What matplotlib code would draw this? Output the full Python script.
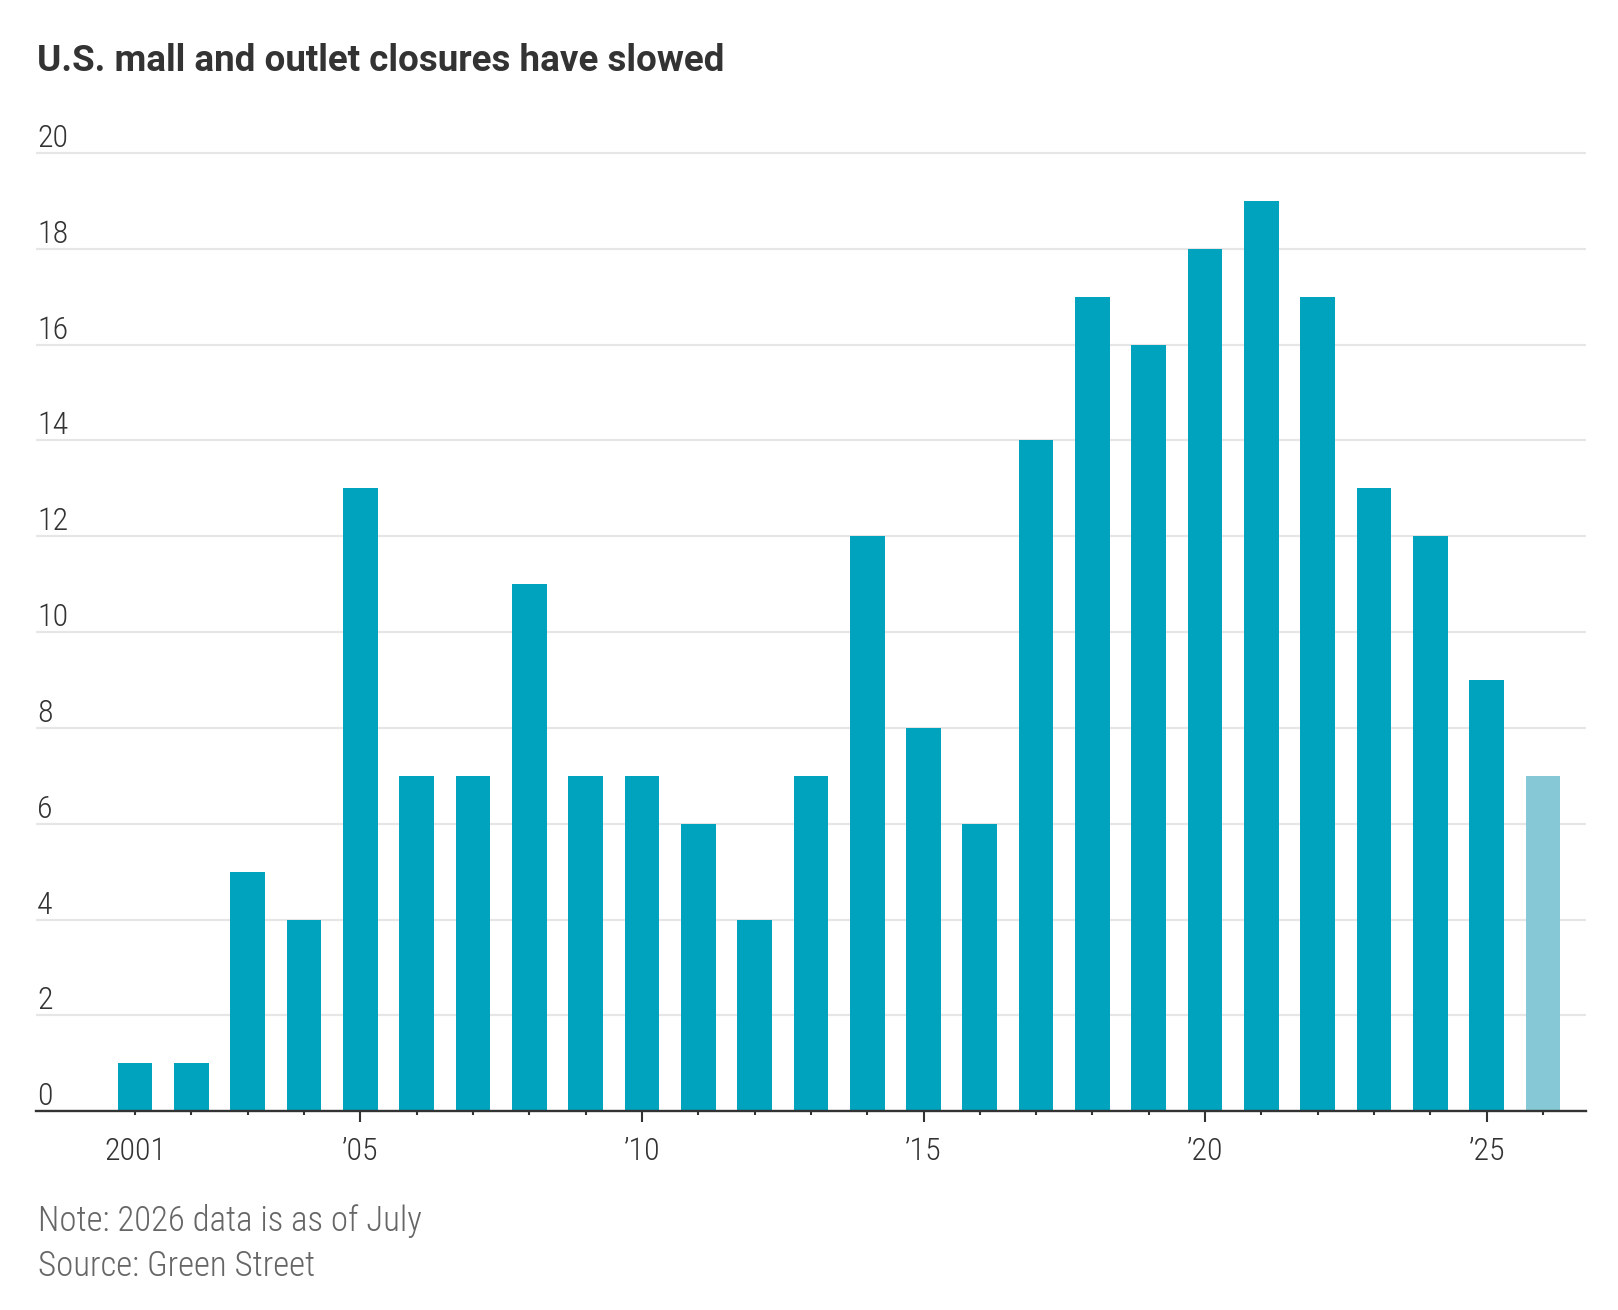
import matplotlib
matplotlib.use("Agg")
import matplotlib.pyplot as plt
from matplotlib import font_manager as fm
from matplotlib.transforms import blended_transform_factory, offset_copy
import os

# ---------------- data ----------------
years = list(range(2001, 2027))
closures = [1, 1, 5, 4, 13, 7, 7, 11, 7, 7, 6, 4, 7, 12, 8, 6, 14, 17, 16, 18, 19, 17, 13, 12, 9, 7]
partial_years = [2026]
ytick_values = [0, 2, 4, 6, 8, 10, 12, 14, 16, 18, 20]
ytick_labels = ["0", "2", "4", "6", "8", "10", "12", "14", "16", "18", "20"]
xtick_years = [2001, 2005, 2010, 2015, 2020, 2025]
xtick_labels = ["2001", "\u201905", "\u201910", "\u201915", "\u201920", "\u201925"]
title_text = "U.S. mall and outlet closures have slowed"
note_text = "Note: 2026 data is as of July"
source_text = "Source: Green Street"


# ---------------- fonts ----------------
def find_file(family, must, avoid=("italic",)):
    for f in fm.fontManager.ttflist:
        low = os.path.basename(f.fname).lower()
        if f.name == family and all(m in low for m in must) and not any(a in low for a in avoid):
            return f.fname
    return None


def props(family, must, weight, avoid=("italic",)):
    fn = find_file(family, must, avoid)
    if fn:
        return fm.FontProperties(fname=fn)
    return fm.FontProperties(family=family, weight=weight)


fp_title = props("Roboto", ["bold"], "bold", avoid=("italic", "semi", "extra", "condensed"))
fp_tick = props("Roboto Condensed", ["light"], "light", avoid=("italic", "extra"))
fp_note = props("Roboto Condensed", ["light"], "light", avoid=("italic", "extra"))

# ---------------- layout ----------------
W, H = 1618, 1310
fig = plt.figure(figsize=(W / 100, H / 100), dpi=100)
fig.patch.set_facecolor("white")

left_px, right_px = 36, 1586
zero_px, y20_px = 1111.3, 153.0
ymax = 20.4
ppu = (zero_px - y20_px) / 20
top_px = zero_px - ymax * ppu
ax = fig.add_axes([left_px / W, 1 - zero_px / H, (right_px - left_px) / W, (zero_px - top_px) / H])

bar_color = "#00a3be"
partial_color = "#86c8d6"
colors = [partial_color if y in partial_years else bar_color for y in years]
ax.bar(years, closures, width=0.616, color=colors, zorder=2, linewidth=0)

ax.set_xlim(1999.242, 2026.763)
ax.set_ylim(0, ymax)

for s in ["top", "right", "left"]:
    ax.spines[s].set_visible(False)
ax.spines["bottom"].set_color("#333333")
ax.spines["bottom"].set_linewidth(1.7)
ax.spines["bottom"].set_zorder(3)

ax.set_yticks(ytick_values)
ax.yaxis.grid(True, color="#e6e6e6", linewidth=1.6)
ax.set_axisbelow(True)
ax.tick_params(axis="y", length=0, labelleft=False)

ax.set_xticks(xtick_years)
ax.set_xticklabels(xtick_labels)
ax.set_xticks(years, minor=True)
ax.tick_params(axis="x", which="major", length=7.7, width=1.5, color="#333333",
               pad=10.5, labelcolor="#333333")
ax.tick_params(axis="x", which="minor", length=3.1, width=1.5, color="#333333")
for lab in ax.get_xticklabels():
    lab.set_fontproperties(fp_tick)
    lab.set_fontsize(23)
ax.xaxis.get_major_ticks()[0].tick1line.set_markersize(3.1)

trans = blended_transform_factory(ax.transAxes, ax.transData)
trans = offset_copy(trans, fig=fig, x=1, y=6, units="dots")
for v, lab in zip(ytick_values, ytick_labels):
    ax.text(0, v, lab, transform=trans, ha="left", va="baseline",
            fontproperties=fp_tick, fontsize=23, color="#333333")

fig.text(37 / W, 1 - 70.7 / H, title_text, fontproperties=fp_title, fontsize=26.5,
         color="#333333", ha="left", va="baseline")
fig.text(38 / W, 1 - 1231 / H, note_text, fontproperties=fp_note, fontsize=25,
         color="#666666", ha="left", va="baseline")
fig.text(38 / W, 1 - 1276 / H, source_text, fontproperties=fp_note, fontsize=25,
         color="#666666", ha="left", va="baseline")

fig.savefig("out.png", dpi=100, facecolor="white")
